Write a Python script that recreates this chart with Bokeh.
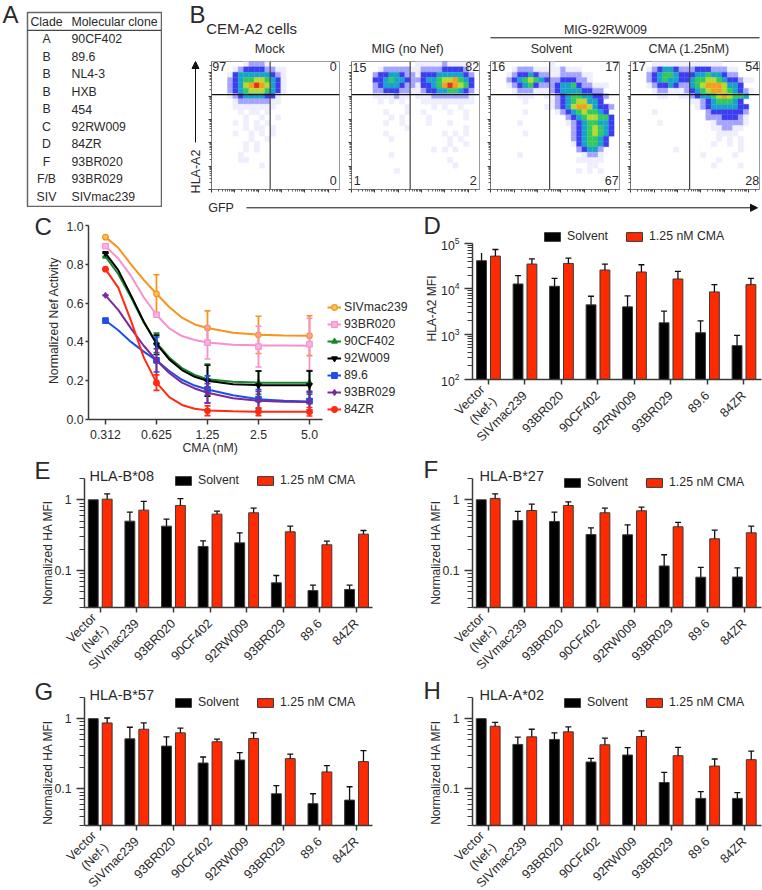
import math
from bokeh.plotting import figure
from bokeh.layouts import column
from bokeh.embed import file_html
from bokeh.resources import INLINE
from bokeh.core.properties import value
from bokeh.models import (Range1d, FixedTicker, Span, Legend, LegendItem, Arrow, NormalHead)

FONT = "Liberation Sans"
INK = "#2a2a2a"
AXC = "#3a3a3a"

# ---------------- data ----------------
clades = ["A", "B", "B", "B", "B", "C", "D", "F", "F/B", "SIV"]
clones = ["90CF402", "89.6", "NL4-3", "HXB", "454", "92RW009", "84ZR", "93BR020", "93BR029", "SIVmac239"]

cma_ticks = ["0.312", "0.625", "1.25", "2.5", "5.0"]
curve_pos = [0, .25, .5, .75, 1, 1.25, 1.5, 1.75, 2, 2.5, 3, 3.5, 4]
c_names = ["SIVmac239", "93BR020", "90CF402", "92W009", "89.6", "93BR029", "84ZR"]
c_means = [
    [.94, .648, .472, .436, .432],
    [.893, .54, .397, .376, .388],
    [.84, .395, .206, .19, .19],
    [.857, .385, .20, .175, .177],
    [.51, .305, .155, .105, .095],
    [.64, .305, .135, .095, .09],
    [.775, .19, .045, .04, .04],
]
c_errs = [
    [0, .098, .088, .096, .103],
    [0, 0, .085, .105, .134],
    [0, .05, .08, .06, .06],
    [0, .05, .08, .075, .073],
    [0, .12, .07, .05, .045],
    [0, .06, .05, .05, .055],
    [0, .04, .025, .02, .022],
]
c_curves = [
    [.94, .885, .80, .72, .648, .58, .525, .49, .472, .447, .437, .433, .432],
    [.893, .83, .74, .63, .54, .47, .43, .41, .397, .385, .382, .381, .38],
    [.84, .75, .63, .50, .395, .32, .265, .23, .208, .195, .19, .19, .19],
    [.857, .77, .64, .505, .39, .31, .255, .22, .20, .182, .177, .176, .176],
    [.51, .46, .40, .35, .305, .25, .205, .175, .155, .125, .105, .097, .093],
    [.64, .565, .47, .38, .305, .24, .19, .16, .138, .11, .097, .092, .09],
    [.775, .68, .51, .32, .19, .115, .075, .055, .047, .042, .04, .04, .04],
]

bar_labels = ["Vector\n(Nef-)", "SIVmac239", "93BR020", "90CF402", "92RW009", "93BR029", "89.6", "84ZR"]

d_solvent = [41700, 12800, 11400, 4430, 4000, 1780, 1076, 557]
d_solvent_hi = [61400, 19500, 17000, 6860, 6980, 3215, 1972, 940]
d_cma = [52700, 35200, 36400, 26000, 23500, 16500, 8550, 12400]
d_cma_hi = [73800, 46000, 47600, 35200, 34000, 24300, 12400, 17000]

e_solvent = [1.0, .499, .424, .219, .246, .067, .052, .054]
e_solvent_hi = [1.0, .669, .533, .263, .341, .085, .062, .062]
e_cma = [1.02, .714, .832, .627, .655, .352, .231, .327]
e_cma_hi = [1.216, .947, 1.04, .69, .762, .424, .26, .368]

f_solvent = [1.0, .510, .494, .323, .32, .116, .0805, .081]
f_solvent_hi = [1.0, .684, .669, .402, .443, .167, .111, .109]
f_cma = [1.044, .706, .832, .655, .699, .415, .281, .341]
f_cma_hi = [1.216, .868, .937, .762, .787, .478, .372, .424]

g_solvent = [1.0, .515, .406, .233, .257, .085, .0614, .069]
g_solvent_hi = [1.0, .754, .55, .284, .327, .111, .085, .107]
g_cma = [.868, .706, .627, .468, .521, .269, .174, .244]
g_cma_hi = [1.02, .868, .73, .51, .627, .313, .214, .349]

h_solvent = [1.0, .429, .505, .241, .303, .123, .073, .073]
h_solvent_hi = [1.0, .544, .627, .272, .385, .172, .091, .088]
h_cma = [.779, .55, .648, .424, .556, .296, .211, .26]
h_cma_hi = [.887, .706, .762, .527, .669, .389, .266, .345]

# flow density read by eye on a 24 x 24 grid, top row first ('.' is empty)
flow_mock = [
    "......12221",
    "....1233332211",
    "...13444444321",
    "...23455665431",
    "...23467876431",
    "...23456665431",
    "...1234444331",
    "....122222211",
    "....11111111",
    ".....1.11.1",
    "......1..1..1",
    "....1.1.1.1",
    "......1.11.1",
    "....1..1.1.1",
    ".......1..1",
    "......1.1",
    "......1.1",
    ".....1",
    ".....11",
    ".........1",
]
flow_mig = [
    "............1111121111",
    ".....12222211222233332",
    "....2334432213334444432",
    "....3345443223445667543",
    "....2344432213345787653",
    "....2233322112334455432",
    "....1111211.11122222221",
    ".....1.1.1...1111111111",
    "..........1....1.1..1",
    "......1...1..1....1..1",
    ".......1.1....1......1",
    "......1..1....1...1",
    "..........1..........1",
    "......1..........1.1.1",
    ".......1..........1.1",
    "..................1..1",
    "...............1.1.1",
    ".......1",
    "..................1",
    "...................1",
    "........1",
]
flow_solvent = [
    "...........1",
    "....1222111112111",
    "...1233432211222211",
    "...2345654322333221",
    "...1234532223445322111",
    "....12221112344443322",
    ".....111..112345544332",
    "......1....1234566443",
    "..........1123467764332",
    "......1.....1234565543",
    "..............234566553",
    ".....1........123455443",
    "...............23456543",
    "......1........23456543",
    "...............2345543",
    "...............1345543",
    "................23442",
    ".....1...........1221",
    "................11111",
    "..................11",
    "................1.1.1",
]
flow_cma = [
    "....1111111111111",
    "...12344322233322211",
    "...23455433344544322",
    "...23454433455665433211",
    "...123343224567776443",
    "....1221112345677654321",
    ".....11..1123445676554",
    "...........1123455543",
    "............1234444433",
    "....1.........23333332",
    "..............22233321",
    ".....1.........1222221",
    "...............112211",
    "................1111",
    "................1.1.1",
    "...............1..1.1",
    "........1...........1",
    ".............1.....1",
    "................1",
    "...............1....1",
]
flow_titles = ["Mock", "MIG (no Nef)", "Solvent", "CMA (1.25nM)"]
flow_numbers = [
    ["97", "0", "0"],
    ["15", "82", "1", "2"],
    ["16", "17", "67"],
    ["17", "54", "28"],
]

# ---------------- styles ----------------
LEVELS = {"1": "#eeeeff", "2": "#a4a4ff", "3": "#3c3cf0", "4": "#18a4c8", "5": "#34c860",
          "6": "#b8d830", "7": "#f0a020", "8": "#e83020"}
C_COLORS = ["#f7941d", "#f78fd0", "#17862a", "#000000", "#1f4fe8", "#7a2a9a", "#ff2a10"]
C_MARKERS = ["circle", "square", "triangle", "inverted_triangle", "square", "diamond", "circle"]
C_FILLS = ["#fbc060", "#fbb4e0", "#17862a", "#000000", "#1f4fe8", "#7a2a9a", "#ff2a10"]
RED = "#ff2a00"

placed = []


def mk(x0, y0, x1, y1, L, T, R, B, **kw):
    W, H = x1 - x0, y1 - y0
    p = figure(width=L + W + R, height=T + H + B, toolbar_location=None, output_backend="svg",
               min_border_left=L, min_border_right=R, min_border_top=T, min_border_bottom=B,
               background_fill_color=None, border_fill_color=None, outline_line_color=None,
               tools="", frame_align=False, **kw)
    p.grid.visible = False
    placed.append((p, x0 - L, y0 - T))
    return p


def style_axis(ax):
    ax.axis_line_color = AXC
    ax.axis_line_width = 1.5
    ax.major_tick_line_color = AXC
    ax.major_tick_line_width = 1.5
    ax.minor_tick_line_color = AXC
    ax.minor_tick_line_width = 1.2
    ax.major_tick_in = 0
    ax.minor_tick_in = 0
    ax.major_label_text_font = FONT
    ax.major_label_text_font_size = "12.3px"
    ax.major_label_text_color = INK


HEADROOM = 16  # room above each bar panel's axis for its legend


def bars(frame, solvent, solvent_hi, cma, cma_hi, left, right, ystart, yend, legend_xy, log_d=False):
    x0, y0, x1, y1 = frame
    decade = (y1 - y0) / math.log10(yend / ystart)
    ytop = yend * 10 ** (HEADROOM / decade)
    p = mk(x0, y0 - HEADROOM, x1, y1, 70, 1, 1, 80, x_range=Range1d(left, right),
           y_range=Range1d(ystart, ytop), y_axis_type="log")
    xs = list(range(len(solvent)))
    off, w = 0.19, 0.27
    xb = [i - off for i in xs]
    xr = [i + off for i in xs]
    rb = p.vbar(x=xb, top=solvent, bottom=ystart, width=w, fill_color="#000000", line_color="#3a3a3a", line_width=1)
    rr = p.vbar(x=xr, top=cma, bottom=ystart, width=w, fill_color=RED, line_color="#3a3a3a", line_width=1)
    p.segment(x0=xb, x1=xb, y0=solvent, y1=solvent_hi, line_color="#111111", line_width=1.3)
    p.segment(x0=xr, x1=xr, y0=cma, y1=cma_hi, line_color="#111111", line_width=1.3)
    p.scatter(x=xb[1:], y=solvent_hi[1:], marker="dash", size=6, line_color="#111111", line_width=1.3)
    p.scatter(x=xr, y=cma_hi, marker="dash", size=6, line_color="#111111", line_width=1.3)
    xa, ya = p.xaxis[0], p.yaxis[0]
    style_axis(xa)
    style_axis(ya)
    xa.ticker = FixedTicker(ticks=xs)
    xa.major_label_overrides = {i: s for i, s in enumerate(bar_labels)}
    xa.major_label_orientation = math.pi / 4
    xa.major_label_text_font_size = "12.6px"
    xa.major_tick_out = 5
    xa.minor_tick_out = 0
    xa.major_label_standoff = 9
    ya.bounds = (ystart, yend)
    ya.major_tick_out = 8
    ya.minor_tick_out = 5
    if not log_d:
        ya.ticker = FixedTicker(ticks=[.1, 1], minor_ticks=[.03, .04, .05, .06, .07, .08, .09,
                                                            .2, .3, .4, .5, .6, .7, .8, .9, 2])
        ya.major_label_overrides = {0.1: "0.1", 1: "1"}
    leg = Legend(items=[LegendItem(label="Solvent", renderers=[rb]), LegendItem(label="1.25 nM CMA", renderers=[rr])],
                 orientation="horizontal", location=legend_xy, glyph_width=20, glyph_height=11,
                 label_standoff=5, spacing=16, padding=0, margin=0, label_height=11, label_width=10,
                 label_text_font=FONT, label_text_font_size="12.3px", label_text_color=INK,
                 background_fill_alpha=0, border_line_color=None)
    p.add_layout(leg, "center")
    return p


# ---------------- A: table ----------------
pa = mk(27, 12, 161, 206, 1, 1, 1, 1, x_range=Range1d(27, 161), y_range=Range1d(10.55, -0.52))
pa.axis.visible = False
pa.outline_line_color = "#666666"
pa.outline_line_width = 1.5
pa.add_layout(Span(location=0.5, dimension="width", line_color="#444444", line_width=1.2))
rows = list(range(1, len(clades) + 1))
pa.text(x=[46] * len(rows), y=rows, text=clades, text_align="center", text_baseline="middle",
        text_font=value(FONT), text_font_size="12.3px", text_color=INK)
pa.text(x=[71] * len(rows), y=rows, text=clones, text_align="left", text_baseline="middle",
        text_font=value(FONT), text_font_size="12.3px", text_color=INK)
pa.text(x=[46], y=[0], text=["Clade"], text_align="center", text_baseline="middle",
        text_font=value(FONT), text_font_size="12.3px", text_color=INK)
pa.text(x=[71], y=[0], text=["Molecular clone"], text_align="left", text_baseline="middle",
        text_font=value(FONT), text_font_size="12.3px", text_color=INK)

# ---------------- B: flow panels ----------------
major = [0, 4.4, 8.75, 13.1, 17.5, 21.9]
minor = [m + 4.37 * math.log10(k) for m in major[:-1] for k in range(2, 10)] + [21.9 + 4.37 * math.log10(2)]


def flow(frame, grid):
    x0, y0, x1, y1 = frame
    p = mk(x0, y0, x1, y1, 8, 1, 1, 8, x_range=Range1d(0, 24), y_range=Range1d(0, 24))
    xs, ys, cs = [], [], []
    for r, row in enumerate(grid):
        for c, ch in enumerate(row):
            if ch in LEVELS:
                xs.append(c + .5)
                ys.append(23.5 - r)
                cs.append(LEVELS[ch])
    p.rect(x=xs, y=ys, width=1, height=1, fill_color=cs, line_color=cs, line_width=0.3)
    p.outline_line_color = "#9a9a9a"
    p.outline_line_width = 1
    for ax in (p.xaxis[0], p.yaxis[0]):
        style_axis(ax)
        ax.axis_line_color = "#777777"
        ax.axis_line_width = 1
        ax.ticker = FixedTicker(ticks=major, minor_ticks=minor)
        ax.major_label_text_font_size = "0px"
        ax.major_label_overrides = {t: "" for t in major}
        ax.major_tick_out = 3
        ax.minor_tick_out = 2
        ax.major_tick_line_width = 1
        ax.minor_tick_line_width = 0.8
    p.add_layout(Span(location=11, dimension="height", line_color="#444444", line_width=1.2))
    p.add_layout(Span(location=17.8, dimension="width", line_color="#111111", line_width=1.2))
    return p


flow((211, 61, 339, 189), flow_mock)
flow((351, 61, 479, 189), flow_mig)
flow((490, 61, 619, 189), flow_solvent)
flow((630, 61, 759, 189), flow_cma)

# ---------------- C: curves ----------------
C_END = 4.255
C_RIGHT = C_END + 100 / 51  # the frame continues to the right, over the legend
pc = mk(88, 225, 422, 419, 45, 4, 1, 30, x_range=Range1d(-0.333, C_RIGHT), y_range=Range1d(0, 1.0))
items = []
for i, name in enumerate(c_names):
    col = C_COLORS[i]
    ln = pc.line(curve_pos, c_curves[i], line_color=col, line_width=2, line_join="round")
    xs = list(range(5))
    lo = [m - e for m, e in zip(c_means[i], c_errs[i])]
    hi = [m + e for m, e in zip(c_means[i], c_errs[i])]
    pc.segment(x0=xs, x1=xs, y0=lo, y1=hi, line_color=col, line_width=1.8)
    pc.scatter(x=xs, y=hi, marker="dash", size=6, line_color=col, line_width=1.6)
    pc.scatter(x=xs, y=lo, marker="dash", size=6, line_color=col, line_width=1.6)
    mk_r = pc.scatter(x=xs, y=c_means[i], marker=C_MARKERS[i], size=5.5, fill_color=C_FILLS[i], line_color=col, line_width=1.2)
    items.append(LegendItem(label=name, renderers=[ln, mk_r]))
leg = Legend(items=items, location=(239, 2), glyph_width=14, glyph_height=14, label_standoff=3, spacing=0,
             padding=0, margin=0, label_height=17, label_text_font=FONT, label_text_font_size="12.3px",
             label_text_color=INK, background_fill_alpha=0, border_line_color=None)
pc.add_layout(leg, "center")
xa, ya = pc.xaxis[0], pc.yaxis[0]
style_axis(xa)
style_axis(ya)
xa.bounds = (-0.333, C_END)
xa.ticker = FixedTicker(ticks=list(range(5)))
xa.major_label_overrides = {i: s for i, s in enumerate(cma_ticks)}
xa.major_tick_out = 5
ya.ticker = FixedTicker(ticks=[0, .2, .4, .6, .8, 1.0])
ya.major_label_overrides = {0: "0.0", 0.2: "0.2", 0.4: "0.4", 0.6: "0.6", 0.8: "0.8", 1: "1.0"}
ya.major_tick_out = 3
ya.major_label_standoff = 2

# ---------------- D-H: bars ----------------
bars((472, 243, 761, 379), d_solvent, d_solvent_hi, d_cma, d_cma_hi, -0.438, 7.48,
     100, 100000, (70, 136), log_d=True)
bars((84, 478, 372, 607), e_solvent, e_solvent_hi, e_cma, e_cma_hi, -0.429, 7.436, .03, 2, (89, 120))
bars((472, 478, 761, 607), f_solvent, f_solvent_hi, f_cma, f_cma_hi, -0.429, 7.47, .03, 2, (90, 118))
bars((84, 697, 372, 825), g_solvent, g_solvent_hi, g_cma, g_cma_hi, -0.429, 7.436, .03, 2, (89, 116))
bars((472, 697, 761, 825), h_solvent, h_solvent_hi, h_cma, h_cma_hi, -0.429, 7.47, .03, 2, (90, 116))

# ---------------- page-level texts and arrows ----------------
fg = figure(width=762, height=890, toolbar_location=None, output_backend="svg", x_range=Range1d(0, 762),
            y_range=Range1d(890, 0), x_axis_type=None, y_axis_type=None, min_border=0, tools="", frame_align=False,
            background_fill_color=None, border_fill_color=None, outline_line_color=None)
fg.grid.visible = False
placed.append((fg, 0, 0))


def put(x, y, s, size, align="left", angle=0.0):
    fg.text(x=[x], y=[y], text=[s], angle=[angle], text_align=align, text_baseline="middle",
            text_font=value(FONT), text_font_size=size, text_color=INK)


for s, x, y in [("A", 2, 14), ("B", 189, 14), ("C", 34, 226), ("D", 423, 225), ("E", 34, 470), ("F", 423, 469),
                ("G", 34, 691), ("H", 423, 690)]:
    put(x, y, s, "24px")
put(205.7, 28, "CEM-A2 cells", "15px")
put(605, 29.5, "MIG-92RW009", "12.5px", "center")
for s, x in zip(flow_titles, [269.3, 407, 551, 688.7]):
    put(x, 48.5, s, "12.5px", "center")
num_pos = [
    [(218.7, 66), (332.7, 66), (332.7, 180)],
    [(359, 66.5), (471.7, 66), (356.7, 180), (472.7, 180)],
    [(497.7, 66), (611.7, 66), (611.3, 180)],
    [(638.3, 66), (751.7, 66), (751.7, 180)],
]
for labels, pts in zip(flow_numbers, num_pos):
    for s, (x, y) in zip(labels, pts):
        put(x, y, s, "12.5px", "center")
put(195, 171, "HLA-A2", "12.5px", "center", math.pi / 2)
put(207.7, 207.5, "GFP", "12.5px")
put(210, 447, "CMA (nM)", "12.3px", "center")
put(53, 320, "Normalized Nef Activity", "12.3px", "center", math.pi / 2)
put(431, 308, "HLA-A2 MFI", "12px", "center", math.pi / 2)
for x, y in [(47, 552), (435, 552), (47, 772), (435, 772)]:
    put(x, y, "Normalized HA MFI", "12px", "center", math.pi / 2)
fg.segment(x0=[490], x1=[759], y0=[37.3], y1=[37.3], line_color="#111111", line_width=1)
fg.add_layout(Arrow(end=NormalHead(size=7, fill_color="#111111", line_color="#111111"), x_start=195, y_start=142,
                    x_end=195, y_end=61, line_color="#111111", line_width=1))
fg.add_layout(Arrow(end=NormalHead(size=7, fill_color="#111111", line_color="#111111"), x_start=246, y_start=207.3,
                    x_end=757, y_end=207.3, line_color="#111111", line_width=1))
for s, x, y in [("HLA-B*08", 89, 475), ("HLA-B*27", 479, 475.5), ("HLA-B*57", 89, 694.7), ("HLA-A*02", 479, 694.7)]:
    put(x, y, s, "14.5px")

# ---------------- page ----------------
for p, x, y in placed:
    p.styles = {"position": "absolute", "left": f"{x}px", "top": f"{y}px"}
root = column(*[p for p, _, _ in placed], width=762, height=890)
root.styles = {"position": "absolute", "left": "0px", "top": "0px", "overflow": "hidden"}
open("out.html", "w").write(file_html(root, INLINE))
